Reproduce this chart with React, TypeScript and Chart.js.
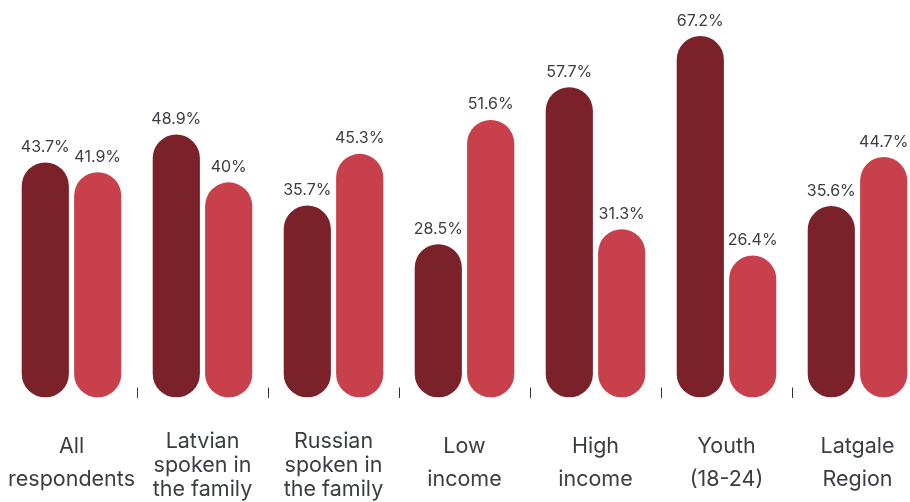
import React, { useEffect, useRef } from "react";
import { Chart, registerables } from "chart.js";

Chart.register(...registerables);

const categories: string[][] = [
  ["All", "respondents"],
  ["Latvian", "spoken in", "the family"],
  ["Russian", "spoken in", "the family"],
  ["Low", "income"],
  ["High", "income"],
  ["Youth", "(18-24)"],
  ["Latgale", "Region"],
];

const seriesA: number[] = [43.7, 48.9, 35.7, 28.5, 57.7, 67.2, 35.6];
const seriesB: number[] = [41.9, 40, 45.3, 51.6, 31.3, 26.4, 44.7];

const colorA = "#7B212A";
const colorB = "#C8404C";
const textColor = "#3A3D42";

const valueLabels = {
  id: "valueLabels",
  afterDatasetsDraw(chart: any) {
    const ctx = chart.ctx;
    ctx.save();
    ctx.font = "16px Inter, 'Noto Sans', sans-serif";
    ctx.fillStyle = textColor;
    ctx.textAlign = "center";
    ctx.textBaseline = "alphabetic";
    chart.data.datasets.forEach((ds: any, di: number) => {
      const meta = chart.getDatasetMeta(di);
      meta.data.forEach((bar: any, i: number) => {
        ctx.fillText(`${ds.data[i]}%`, bar.x, bar.y - 10.5);
      });
    });
    ctx.restore();
  },
};

export default function App() {
  const ref = useRef<HTMLCanvasElement | null>(null);
  useEffect(() => {
    if (!ref.current) return;
    const chart = new Chart(ref.current, {
      type: "bar",
      data: {
        labels: categories,
        datasets: [
          {
            data: seriesA,
            backgroundColor: colorA,
            borderRadius: 30,
            borderSkipped: false,
          },
          {
            data: seriesB,
            backgroundColor: colorB,
            borderRadius: 30,
            borderSkipped: false,
          },
        ],
      },
      options: {
        animation: false,
        responsive: false,
        devicePixelRatio: 1,
        layout: { autoPadding: false, padding: { left: 6, right: 7, top: 21, bottom: 1 } },
        plugins: {
          legend: { display: false },
          tooltip: { enabled: false },
        },
        scales: {
          y: { display: false, min: 0, max: 70 },
          x: {
            afterFit: (s: any) => {
              s.height = 103.5;
              s.paddingLeft = 0;
              s.paddingRight = 0;
            },
            border: { display: false },
            grid: {
              drawOnChartArea: false,
              drawTicks: true,
              tickLength: -10,
              color: (c: any) =>
                c.index === undefined || c.index === 0 ? "rgba(0,0,0,0)" : "#333333",
              lineWidth: 1,
            },
            ticks: {
              padding: 42.5,
              color: textColor,
              maxRotation: 0,
              autoSkip: false,
              font: (c: any) => {
                const lbl = categories[c.index] || [];
                return {
                  family: "Inter, 'Noto Sans', sans-serif",
                  size: 21.5,
                  lineHeight: lbl.length >= 3 ? "24px" : "33px",
                } as any;
              },
            },
          },
        },
      },
      plugins: [valueLabels],
    });
    return () => chart.destroy();
  }, []);
  return (
    <div
      style={{
        position: "absolute",
        left: 0,
        top: 0,
        width: 910,
        height: 502,
        overflow: "hidden",
        background: "#ffffff",
      }}
    >
      <canvas ref={ref} width={930} height={502} style={{ display: "block" }} />
    </div>
  );
}
